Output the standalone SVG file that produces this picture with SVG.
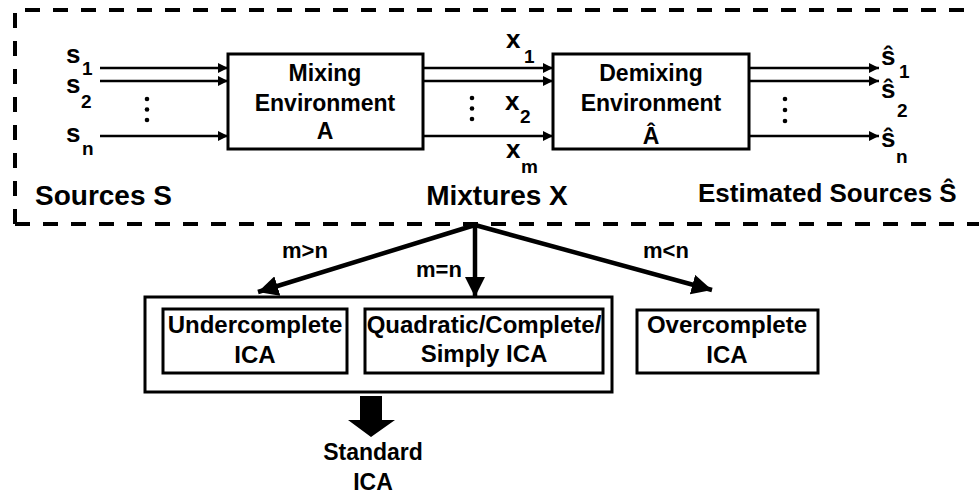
<svg xmlns="http://www.w3.org/2000/svg" width="979" height="494" viewBox="0 0 979 494">
<style>
text{font-family:"Liberation Sans",Arial,sans-serif;font-weight:bold;fill:#000}
.box{fill:#fff;stroke:#000;stroke-width:3}
.ln{stroke:#000;stroke-width:2.5;fill:none}
.fan{stroke:#000;stroke-width:4.5;fill:none}
.dash{stroke:#000;stroke-width:4;fill:none;stroke-dasharray:15 13}
.c{text-anchor:middle}
.t23{font-size:23px}
.t24{font-size:24px}
.big{font-size:28px}
.lab{font-size:26px}
.sub{font-size:19px}
.cond{font-size:22px}
</style>
<defs>
<marker id="ah" viewBox="0 0 10 10" refX="10" refY="5" markerWidth="6" markerHeight="4" markerUnits="strokeWidth" orient="auto">
<path d="M0,0 L10,5 L0,10 z" fill="#000"/>
</marker>
<marker id="fh" viewBox="0 0 10 10" refX="10" refY="5" markerWidth="4.5" markerHeight="4.5" markerUnits="strokeWidth" orient="auto">
<path d="M0,0 L10,5 L0,10 z" fill="#000"/>
</marker>
</defs>

<g id="boundary">
<path class="dash" d="M15,224 L15,10 L968,10"/>
<path class="dash" d="M15,224 L979,224"/>
</g>

<g id="connectors">
<line class="ln" x1="100" y1="68" x2="228" y2="68" marker-end="url(#ah)"/>
<line class="ln" x1="100" y1="81" x2="228" y2="81" marker-end="url(#ah)"/>
<line class="ln" x1="100" y1="136" x2="228" y2="136" marker-end="url(#ah)"/>
<line class="ln" x1="423" y1="68" x2="553" y2="68" marker-end="url(#ah)"/>
<line class="ln" x1="423" y1="81" x2="553" y2="81" marker-end="url(#ah)"/>
<line class="ln" x1="423" y1="136" x2="553" y2="136" marker-end="url(#ah)"/>
<line class="ln" x1="749" y1="68" x2="879" y2="68" marker-end="url(#ah)"/>
<line class="ln" x1="749" y1="81" x2="879" y2="81" marker-end="url(#ah)"/>
<line class="ln" x1="749" y1="136" x2="879" y2="136" marker-end="url(#ah)"/>
<line class="fan" x1="475" y1="225" x2="258" y2="292" marker-end="url(#fh)"/>
<line class="fan" x1="475" y1="225" x2="475" y2="297" marker-end="url(#fh)"/>
<line class="fan" x1="475" y1="225" x2="712" y2="290" marker-end="url(#fh)"/>
<path d="M360,396 H382 V420 H395 L371,437 L348,420 H360 Z" fill="#000"/>
</g>

<g id="dots" fill="#000">
<circle cx="147" cy="99" r="2.3"/><circle cx="147" cy="109.5" r="2.3"/><circle cx="147" cy="120" r="2.3"/>
<circle cx="472" cy="98" r="2.3"/><circle cx="472" cy="108.5" r="2.3"/><circle cx="472" cy="119" r="2.3"/>
<circle cx="785" cy="99" r="2.3"/><circle cx="785" cy="110" r="2.3"/><circle cx="785" cy="121" r="2.3"/>
</g>

<g id="sources">
<text class="lab" x="66" y="63">s</text><text class="sub" x="82" y="75">1</text>
<text class="lab" x="66" y="93">s</text><text class="sub" x="81" y="108">2</text>
<text class="lab" x="66" y="142">s</text><text class="sub" x="82" y="155">n</text>
<text class="big" x="35" y="205">Sources S</text>
</g>

<g id="mixing">
<rect class="box" x="228" y="54" width="195" height="95"/>
<text class="t23 c" x="325" y="81">Mixing</text>
<text class="t23 c" x="325" y="111">Environment</text>
<text class="t23 c" x="325" y="139">A</text>
</g>

<g id="mixtures">
<text class="lab" x="506" y="48">x</text><text class="sub" x="524" y="63">1</text>
<text class="lab" x="505" y="110">x</text><text class="sub" x="520" y="123">2</text>
<text class="lab" x="506" y="158">x</text><text class="sub" x="521" y="173">m</text>
<text class="big c" x="497" y="205">Mixtures X</text>
</g>

<g id="demixing">
<rect class="box" x="553" y="54" width="196" height="95"/>
<text class="t23 c" x="651" y="81">Demixing</text>
<text class="t23 c" x="651" y="111">Environment</text>
<text class="t23 c" x="651" y="144">Â</text>
</g>

<g id="estimated">
<text class="lab" x="881" y="65">ŝ</text><text class="sub" x="899" y="78">1</text>
<text class="lab" x="881" y="98">ŝ</text><text class="sub" x="897" y="117">2</text>
<text class="lab" x="881" y="147">ŝ</text><text class="sub" x="896" y="163">n</text>
<text class="lab" x="698" y="202">Estimated Sources Ŝ</text>
</g>

<g id="conditions">
<text class="cond c" x="305" y="258">m&gt;n</text>
<text class="cond c" x="439" y="277">m=n</text>
<text class="cond c" x="666" y="258">m&lt;n</text>
</g>

<g id="standard-group">
<rect class="box" x="145" y="297" width="467" height="95"/>
</g>

<g id="undercomplete">
<rect class="box" x="163" y="309" width="184" height="64"/>
<text class="t24 c" x="255" y="333">Undercomplete</text>
<text class="t24 c" x="255" y="363">ICA</text>
</g>

<g id="quadratic">
<rect class="box" x="365" y="309" width="238" height="64"/>
<text class="t24 c" x="484" y="333">Quadratic/Complete/</text>
<text class="t24 c" x="484" y="362">Simply ICA</text>
</g>

<g id="overcomplete">
<rect class="box" x="637" y="310" width="181" height="63"/>
<text class="t24 c" x="727" y="333">Overcomplete</text>
<text class="t24 c" x="727" y="363">ICA</text>
</g>

<g id="standard">
<text class="t23 c" x="373" y="460">Standard</text>
<text class="t23 c" x="373" y="490">ICA</text>
</g>
</svg>
